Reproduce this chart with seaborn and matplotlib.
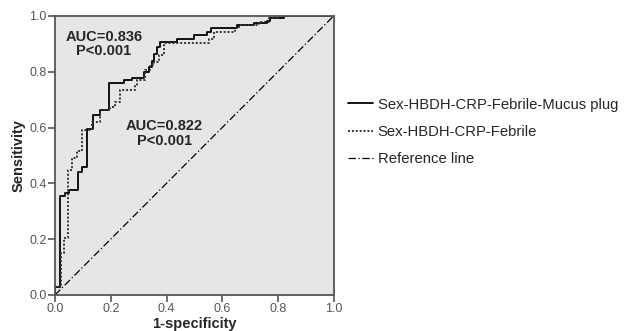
import matplotlib
matplotlib.use("Agg")
import matplotlib.pyplot as plt
import seaborn as sns
import pandas as pd
from matplotlib.lines import Line2D

# ROC step points (1-specificity, sensitivity)
fpr_full = [0, 0, 0.018, 0.036, 0.05, 0.084, 0.096, 0.114, 0.136, 0.162,
            0.192, 0.246, 0.276, 0.318, 0.336, 0.348, 0.356, 0.366, 0.378, 0.438,
            0.497, 0.546, 0.56, 0.654, 0.713, 0.762, 0.773, 0.821, 1.0]
tpr_full = [0, 0.03, 0.355, 0.367, 0.376, 0.442, 0.46, 0.595, 0.645, 0.663,
            0.759, 0.77, 0.779, 0.8, 0.818, 0.839, 0.863, 0.89, 0.908, 0.918,
            0.93, 0.942, 0.958, 0.968, 0.974, 0.983, 0.991, 1.0, 1.0]

fpr_red = [0, 0, 0.022, 0.032, 0.048, 0.06, 0.078, 0.098, 0.132, 0.162,
           0.198, 0.216, 0.234, 0.288, 0.294, 0.324, 0.342, 0.356, 0.372, 0.39,
           0.551, 0.57, 0.647, 0.66, 0.731, 0.767, 0.8, 1.0]
tpr_red = [0, 0.03, 0.152, 0.204, 0.448, 0.49, 0.514, 0.59, 0.621, 0.663,
           0.675, 0.69, 0.735, 0.75, 0.771, 0.806, 0.824, 0.836, 0.86, 0.902,
           0.918, 0.944, 0.955, 0.968, 0.979, 0.991, 1.0, 1.0]

ref_x = [0.0, 1.0]
ref_y = [0.0, 1.0]

series_labels = ["Sex-HBDH-CRP-Febrile-Mucus plug", "Sex-HBDH-CRP-Febrile", "Reference line"]
auc_texts = ["AUC=0.836\nP<0.001", "AUC=0.822\nP<0.001"]
ticks = [0.0, 0.2, 0.4, 0.6, 0.8, 1.0]
tick_labels = ["0.0", "0.2", "0.4", "0.6", "0.8", "1.0"]

sns.set_theme(style="white")
plt.rcParams['font.family'] = ['Liberation Sans', 'DejaVu Sans']

fig = plt.figure(figsize=(6.25, 3.31), dpi=100)
ax = fig.add_axes([0.088, 0.109, 0.446, 0.843])
ax.set_facecolor("#e6e6e6")

df_a = pd.DataFrame({"x": fpr_full, "y": tpr_full})
df_b = pd.DataFrame({"x": fpr_red, "y": tpr_red})
df_r = pd.DataFrame({"x": ref_x, "y": ref_y})

sns.lineplot(data=df_a, x="x", y="y", ax=ax, sort=False, estimator=None,
             color="black", linewidth=1.3, drawstyle="steps-post")
sns.lineplot(data=df_b, x="x", y="y", ax=ax, sort=False, estimator=None,
             color="#333333", linewidth=1.4, linestyle=(0, (1, 1)), drawstyle="steps-post")
sns.lineplot(data=df_r, x="x", y="y", ax=ax, sort=False, estimator=None,
             color="black", linewidth=0.9, linestyle=(0, (6, 2, 1, 2)))

ax.set_xlim(0, 1)
ax.set_ylim(0, 1)
ax.set_xticks(ticks)
ax.set_xticklabels(tick_labels)
ax.set_yticks(ticks)
ax.set_yticklabels(tick_labels)
ax.tick_params(axis="both", direction="out", length=5, width=1.2, color="#555555",
               labelcolor="#555555", labelsize=9, pad=1, bottom=True, left=True)
for s in ax.spines.values():
    s.set_color("#555555")
    s.set_linewidth(1.3)
    s.set_visible(True)

ax.set_xlabel("1-specificity", fontsize=10.5, fontweight="bold", labelpad=1)
ax.set_ylabel("Sensitivity", fontsize=10.5, fontweight="bold", labelpad=3)

ax.text(0.175, 0.90, auc_texts[0], ha="center", va="center", fontsize=10.5,
        fontweight="bold", linespacing=1.05)
ax.text(0.392, 0.578, auc_texts[1], ha="center", va="center", fontsize=10.5,
        fontweight="bold", linespacing=1.05)

handles = [
    Line2D([], [], color="black", linewidth=1.3),
    Line2D([], [], color="#333333", linewidth=1.4, linestyle=(0, (1, 1))),
    Line2D([], [], color="black", linewidth=0.9, linestyle=(0, (6, 2, 1, 2))),
]
fig.legend(handles, series_labels, loc="center left", bbox_to_anchor=(0.556, 0.601),
           frameon=False, fontsize=10.7, handlelength=1.7, handletextpad=0.33,
           labelspacing=0.9, borderpad=0, borderaxespad=0)

fig.savefig("out.png", dpi=100)
